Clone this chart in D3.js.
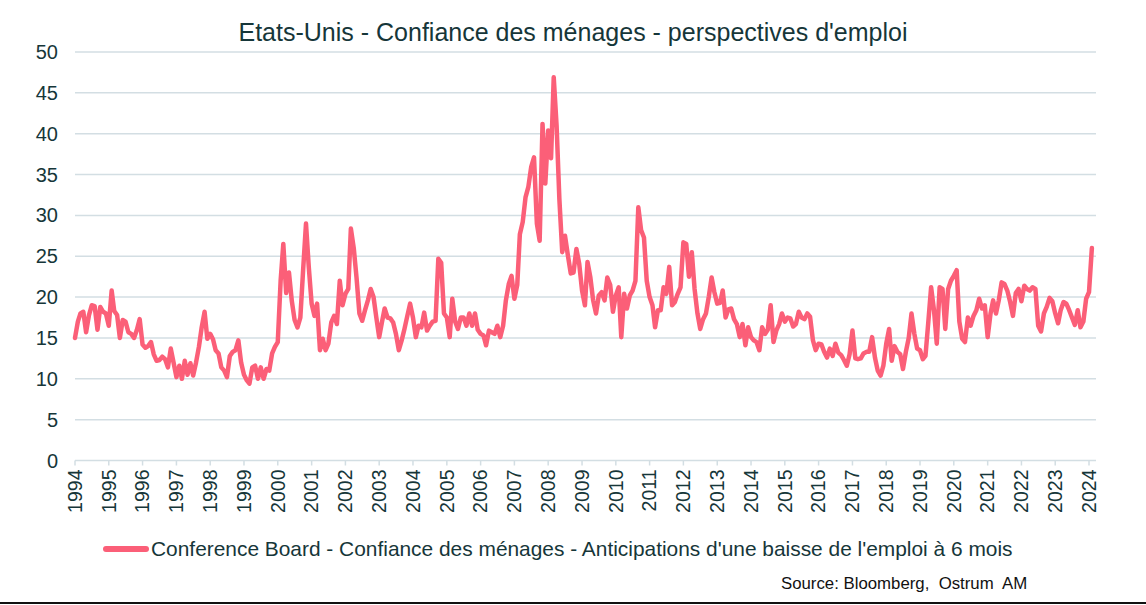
<!DOCTYPE html>
<html><head><meta charset="utf-8">
<script src="https://cdn.jsdelivr.net/npm/d3@7"></script>
<style>body{margin:0;background:#fff} svg{display:block}</style>
</head><body>
<svg id="c" width="1146" height="605"></svg>
<script>
const title = "Etats-Unis - Confiance des ménages - perspectives d'emploi";
const seriesName = "Conference Board - Confiance des ménages - Anticipations d'une baisse de l'emploi à 6 mois";
const sourceText = "Source: Bloomberg,  Ostrum  AM";
const startYear = 1994; // monthly values starting January 1994

const values1990s = [
  15.0,17.0,18.0,18.2,15.7,17.8,19.0,18.9,16.0,18.8,18.2,18.0,
  16.5,20.8,18.3,17.8,15.0,17.2,17.0,15.7,15.5,15.0,16.0,17.3,
  14.2,13.8,14.0,14.5,13.0,12.2,12.3,12.7,12.4,11.4,13.7,12.0,
  10.2,11.6,10.0,12.2,10.5,11.9,10.4,12.0,13.9,16.3,18.2,14.9,
  15.5,14.8,13.5,13.1,11.4,11.0,10.2,12.8,13.3,13.5,14.7,12.0,
  10.5,9.8,9.4,11.4,11.6,10.0,11.4,10.0,11.2,11.0,13.1,13.9
];
const values2000s = [
  14.5,22.0,26.5,20.5,23.0,19.5,17.2,16.3,17.5,23.3,29.0,23.7,
  19.2,17.7,19.2,13.5,14.9,13.5,14.3,16.9,17.7,16.7,22.0,19.0,
  20.4,21.0,28.4,26.0,22.4,18.0,17.1,18.4,19.6,21.0,20.0,17.5,
  15.1,17.0,18.6,17.5,17.4,16.9,15.5,13.5,14.7,16.1,17.7,19.2,
  17.5,15.1,16.5,16.3,18.1,15.9,16.5,17.0,17.1,24.7,24.2,18.0,
  17.5,15.1,19.8,17.0,16.1,17.5,17.5,16.5,18.0,16.5,18.0,16.0,
  15.5,15.3,14.1,15.9,15.7,15.5,16.5,15.1,16.5,19.6,21.6,22.6,
  19.8,21.5,27.7,29.2,32.2,33.5,35.9,37.1,29.0,26.9,41.2,33.9,
  40.4,37.0,46.9,41.0,32.0,25.5,27.5,25.1,22.9,23.0,25.9,24.1,
  20.8,19.0,24.3,22.4,19.6,18.0,20.2,20.6,19.6,22.4,21.5,18.2
];
const values2010s = [
  20.2,21.2,15.1,20.4,18.6,20.2,20.8,22.0,31.0,28.2,27.3,22.0,
  20.0,19.0,16.3,18.4,18.4,21.2,20.4,23.7,19.0,19.4,20.4,21.2,
  26.7,26.5,22.5,25.5,21.0,18.0,16.1,17.3,18.0,20.0,22.4,20.6,
  19.2,19.3,20.8,17.5,18.5,18.6,17.3,16.7,15.1,16.7,14.1,16.3,
  15.1,14.7,14.5,13.5,16.3,15.5,16.0,19.0,14.5,15.9,16.7,18.0,
  17.0,17.5,17.4,16.4,16.7,18.2,17.5,17.3,18.0,17.6,14.7,13.5,
  14.3,14.2,13.3,12.6,13.7,12.8,14.3,13.2,12.9,12.3,11.6,13.0,
  15.9,12.5,12.4,12.5,13.1,13.3,13.3,15.1,12.6,11.0,10.4,11.6,
  14.3,16.1,12.2,14.0,13.3,13.0,11.2,13.3,15.0,18.0,15.5,13.7,
  13.5,12.4,12.8,17.0,21.2,18.4,14.3,21.2,21.0,16.1,21.0,22.0
];
const values2020s = [
  22.6,23.3,17.0,14.9,14.5,17.5,16.5,17.7,18.4,19.8,18.6,19.0,
  15.1,18.0,19.6,18.0,19.6,21.8,21.6,20.8,19.4,17.7,20.5,21.0,
  19.5,21.4,21.0,20.8,21.2,21.0,16.5,15.8,18.0,18.8,19.9,19.5,
  18.0,16.8,18.4,19.4,19.2,18.4,17.5,16.6,18.4,16.3,17.0,19.8,
  20.6,26.0
];
const yTicks = [0,5,10,15,20,25,30,35,40,45,50];
const xTickYears = d3.range(1994, 2025);

const allValues = values1990s.concat(values2000s, values2010s, values2020s);
const data = allValues.map((v, i) => ({ date: new Date(Date.UTC(startYear, i, 1)), value: v }));

const FONT = "'Liberation Sans', Arial, sans-serif";
const TEXT = "#163639";
const GRID = "#d3dee3";
const LINE = "#fb5f78";

const svg = d3.select("#c");
const x = d3.scaleUtc().domain([new Date(Date.UTC(1994,0,1)), new Date(Date.UTC(2024,0,1))]).range([75, 1089]);
const y = d3.scaleLinear().domain([0, 50]).range([460.5, 52]);
const xEnd = 1096;

// gridlines
svg.append("g").selectAll("line").data(yTicks.filter(d => d > 0)).join("line")
  .attr("x1", 75).attr("x2", xEnd)
  .attr("y1", d => y(d)).attr("y2", d => y(d))
  .attr("stroke", GRID).attr("stroke-width", 1.5);

// y labels
svg.append("g").selectAll("text").data(yTicks).join("text")
  .attr("x", 58).attr("y", d => y(d)).attr("dy", "0.35em")
  .attr("text-anchor", "end")
  .attr("font-family", FONT).attr("font-size", 20).attr("fill", TEXT)
  .text(d => d);

// x axis line + ticks
svg.append("line").attr("x1", 75).attr("x2", xEnd).attr("y1", y(0)).attr("y2", y(0))
  .attr("stroke", GRID).attr("stroke-width", 1.5);
const xt = svg.append("g");
xt.selectAll("line").data(xTickYears).join("line")
  .attr("x1", d => x(new Date(Date.UTC(d,0,1)))).attr("x2", d => x(new Date(Date.UTC(d,0,1))))
  .attr("y1", y(0)).attr("y2", y(0) + 5)
  .attr("stroke", GRID).attr("stroke-width", 1.5);
xt.selectAll("text").data(xTickYears).join("text")
  .attr("transform", d => `translate(${x(new Date(Date.UTC(d,0,1)))},${y(0) + 9}) rotate(-90)`)
  .attr("dy", "0.35em").attr("text-anchor", "end")
  .attr("font-family", FONT).attr("font-size", 19.5).attr("fill", TEXT)
  .text(d => d);

// series line
const line = d3.line().x(d => x(d.date)).y(d => y(d.value)).curve(d3.curveLinear);
svg.append("path").datum(data)
  .attr("d", line).attr("fill", "none")
  .attr("stroke", LINE).attr("stroke-width", 4.5)
  .attr("stroke-linejoin", "round").attr("stroke-linecap", "round");

// title
svg.append("text").attr("x", 573).attr("y", 32).attr("dy", "0.35em")
  .attr("text-anchor", "middle").attr("font-family", FONT).attr("font-size", 25).attr("fill", TEXT)
  .text(title);

// legend
svg.append("line").attr("x1", 106).attr("x2", 146).attr("y1", 549).attr("y2", 549)
  .attr("stroke", LINE).attr("stroke-width", 6).attr("stroke-linecap", "round");
svg.append("text").attr("x", 151).attr("y", 549).attr("dy", "0.35em")
  .attr("font-family", FONT).attr("font-size", 20.9).attr("fill", TEXT)
  .text(seriesName);

// source
svg.append("text").attr("x", 781).attr("y", 583).attr("dy", "0.35em")
  .attr("font-family", FONT).attr("font-size", 16.8).attr("fill", "#111")
  .attr("xml:space", "preserve").style("white-space", "pre")
  .text(sourceText);

// bottom rule
svg.append("line").attr("x1", 0).attr("x2", 1146).attr("y1", 603).attr("y2", 603)
  .attr("stroke", "#111").attr("stroke-width", 2);
</script>
</body></html>
